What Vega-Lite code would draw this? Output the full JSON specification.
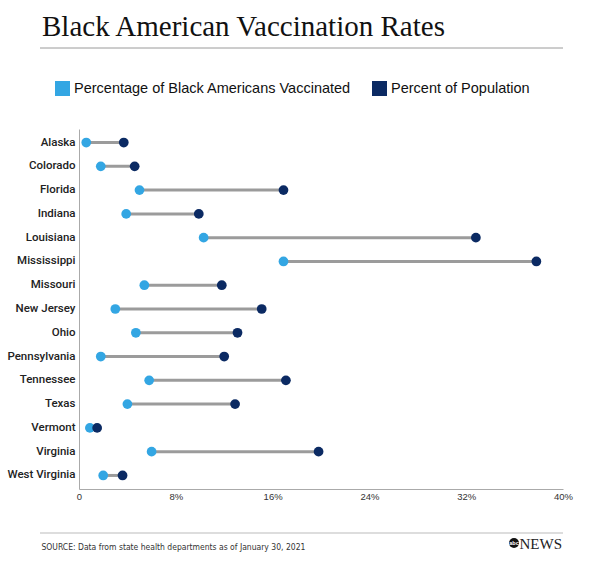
{
  "$schema": "https://vega.github.io/schema/vega-lite/v6.json",
  "width": 484,
  "height": 360,
  "autosize": {"type": "none"},
  "padding": {"left": 79, "top": 129, "right": 36, "bottom": 74},
  "background": "white",
  "title": {
    "text": "Black American Vaccination Rates",
    "font": "Liberation Serif",
    "fontSize": 29,
    "fontWeight": "normal",
    "color": "#111111",
    "anchor": "start",
    "frame": "group",
    "dx": -37,
    "baseline": "alphabetic",
    "offset": -17
  },
  "config": {
    "view": {"stroke": null},
    "axis": {"grid": false, "ticks": false, "domainColor": "#aaaaaa", "domainWidth": 1}
  },
  "data": {
    "values": [
      {"state": "Alaska", "vaccinated": 0.6, "population": 3.7},
      {"state": "Colorado", "vaccinated": 1.8, "population": 4.6},
      {"state": "Florida", "vaccinated": 5.0, "population": 16.9},
      {"state": "Indiana", "vaccinated": 3.9, "population": 9.9},
      {"state": "Louisiana", "vaccinated": 10.3, "population": 32.8},
      {"state": "Mississippi", "vaccinated": 16.9, "population": 37.8},
      {"state": "Missouri", "vaccinated": 5.4, "population": 11.8},
      {"state": "New Jersey", "vaccinated": 3.0, "population": 15.1},
      {"state": "Ohio", "vaccinated": 4.7, "population": 13.1},
      {"state": "Pennsylvania", "vaccinated": 1.8, "population": 12.0},
      {"state": "Tennessee", "vaccinated": 5.8, "population": 17.1},
      {"state": "Texas", "vaccinated": 4.0, "population": 12.9},
      {"state": "Vermont", "vaccinated": 0.9, "population": 1.5},
      {"state": "Virginia", "vaccinated": 6.0, "population": 19.8},
      {"state": "West Virginia", "vaccinated": 2.0, "population": 3.6}
    ]
  },
  "encoding": {
    "y": {
      "field": "state",
      "type": "nominal",
      "sort": null,
      "scale": {"paddingOuter": 0.07, "paddingInner": 0},
      "axis": {
        "title": "NEWS",
        "titleAngle": 0,
        "titleX": 440,
        "titleY": 414,
        "titleAlign": "left",
        "titleBaseline": "middle",
        "titleFont": "Liberation Serif",
        "titleFontSize": 15,
        "titleFontWeight": "normal",
        "titleColor": "#222222",
        "labelFont": "Roboto",
        "labelFontSize": 11.5,
        "labelFontWeight": 500,
        "labelColor": "#222222",
        "labelPadding": 4
      }
    }
  },
  "layer": [
    {
      "mark": {"type": "rule", "color": "#9b9b9b", "strokeWidth": 3},
      "encoding": {
        "x": {
          "field": "vaccinated",
          "type": "quantitative",
          "scale": {"domain": [0, 40], "nice": false},
          "axis": {
            "values": [0, 8, 16, 24, 32, 40],
            "labelExpr": "datum.value == 0 ? '0' : datum.value + '%'",
            "labelFont": "Liberation Sans",
            "labelFontSize": 9.5,
            "labelColor": "#333333",
            "labelPadding": 2,
            "labelFlush": false,
            "title": "SOURCE: Data from state health departments as of January 30, 2021",
            "titleX": -38,
            "titleY": 57,
            "titleAlign": "left",
            "titleBaseline": "middle",
            "titleFont": "DejaVu Sans Condensed, Liberation Sans",
            "titleFontSize": 8.5,
            "titleFontWeight": "normal",
            "titleColor": "#333333"
          }
        },
        "x2": {"field": "population"}
      }
    },
    {
      "transform": [{"fold": ["vaccinated", "population"], "as": ["series", "value"]}],
      "mark": {"type": "point", "filled": true, "opacity": 1, "size": 95},
      "encoding": {
        "x": {"field": "value", "type": "quantitative"},
        "color": {
          "field": "series",
          "type": "nominal",
          "scale": {"domain": ["vaccinated", "population"], "range": ["#33a6e3", "#0b2a63"]},
          "legend": {
            "title": null,
            "orient": "none",
            "legendX": -24,
            "legendY": -48,
            "direction": "horizontal",
            "symbolType": "square",
            "symbolSize": 225,
            "symbolStrokeWidth": 0,
            "symbolOpacity": 1,
            "labelExpr": "datum.value == 'vaccinated' ? 'Percentage of  Black Americans Vaccinated' : 'Percent of Population'",
            "labelFont": "Liberation Sans",
            "labelFontSize": 14.5,
            "labelColor": "#111111",
            "labelOffset": 4,
            "labelLimit": 400,
            "columnPadding": 16,
            "padding": 0
          }
        }
      }
    },
    {
      "data": {"values": [{}]},
      "mark": {"type": "rule", "color": "#9a9a9a", "strokeWidth": 1},
      "encoding": {"x": {"value": -39}, "x2": {"value": 484}, "y": {"value": -81}}
    },
    {
      "data": {"values": [{}]},
      "mark": {"type": "rule", "color": "#bbbbbb", "strokeWidth": 1},
      "encoding": {"x": {"value": -39}, "x2": {"value": 484}, "y": {"value": 404}}
    },
    {
      "data": {"values": [{}]},
      "mark": {"type": "point", "filled": true, "opacity": 1, "color": "#111111", "size": 100},
      "encoding": {"x": {"value": 435}, "y": {"value": 414}}
    },
    {
      "data": {"values": [{"logo": "abc"}]},
      "mark": {"type": "text", "color": "white", "font": "Liberation Sans", "fontSize": 5.5, "fontWeight": "bold", "align": "center", "baseline": "middle"},
      "encoding": {"x": {"value": 435}, "y": {"value": 414}, "text": {"field": "logo"}}
    }
  ]
}
